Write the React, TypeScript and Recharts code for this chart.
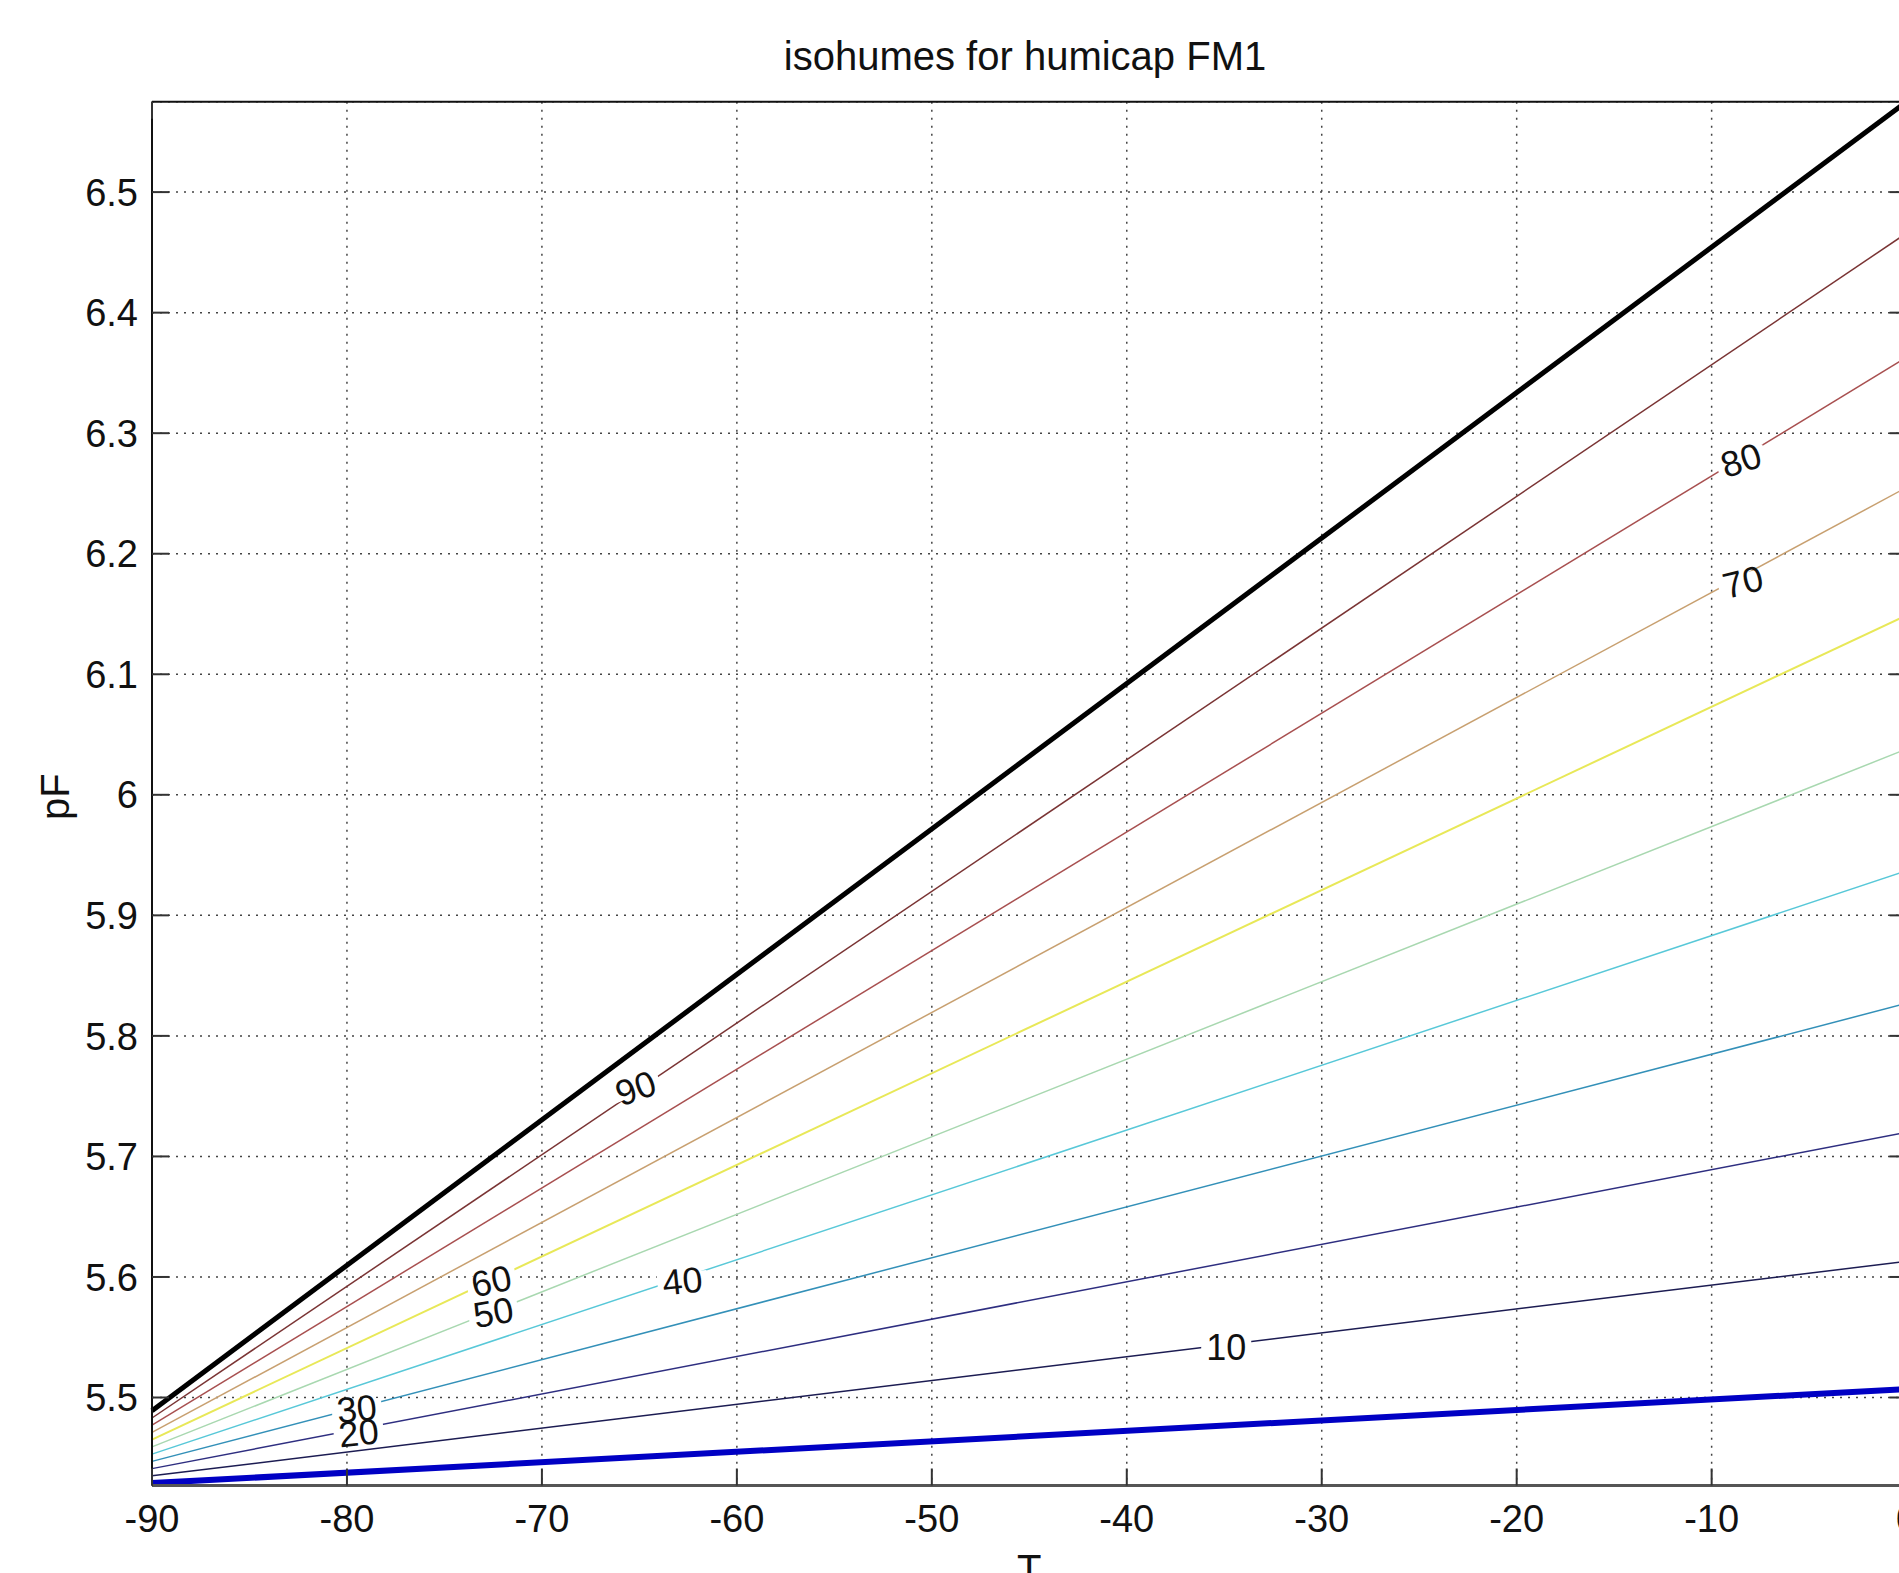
import React from 'react';
import { LineChart, Line, XAxis, YAxis, CartesianGrid, ReferenceDot } from 'recharts';

const FONT = '"Liberation Sans", Arial, Helvetica, sans-serif';
const TICK_LEN = 17;

// temperature at both ends of each isohume
const temps = [-90, 0];

// pF of each isohume (relative humidity %) read at T = -90 and T = 0
const rh0 = [5.429, 5.507];
const rh10 = [5.435, 5.613];
const rh20 = [5.441, 5.72];
const rh30 = [5.447, 5.827];
const rh40 = [5.453, 5.937];
const rh50 = [5.459, 6.038];
const rh60 = [5.465, 6.149];
const rh70 = [5.471, 6.255];
const rh80 = [5.477, 6.363];
const rh90 = [5.483, 6.466];
const rh100 = [5.489, 6.575];

const levels = [10, 20, 30, 40, 50, 60, 70, 80, 90, 0, 100];
const series = [rh10, rh20, rh30, rh40, rh50, rh60, rh70, rh80, rh90, rh0, rh100];
const lineColors = ['#1c1c52', '#2e2e80', '#3390b8', '#58c8d8', '#a8d8b0', '#e8e858', '#c8a070', '#a85050', '#7a3434', '#0000c4', '#000000'];
const lineWidths = [1.5, 1.5, 1.5, 1.5, 1.5, 2, 1.5, 1.5, 1.5, 6, 5];

const xTicks = [-90, -80, -70, -60, -50, -40, -30, -20, -10, 0];
const yTicks = [5.5, 5.6, 5.7, 5.8, 5.9, 6, 6.1, 6.2, 6.3, 6.4, 6.5];
const yDomain = [5.427, 6.575];

// inline contour labels
const labelText = ['90', '80', '70', '60', '50', '40', '30', '20', '10'];
const labelT = [-65.2, -8.5, -8.4, -72.6, -72.5, -62.8, -79.5, -79.4, -34.9];
const labelPF = [5.757, 6.278, 6.177, 5.597, 5.571, 5.597, 5.491, 5.471, 5.542];
const labelAngle = [-20, -18, -14, -12, -10, -6, -6, -6, 0];

const data = temps.map((t, i) => {
  const row: Record<string, number> = { T: t };
  levels.forEach((lv, j) => {
    row['rh' + lv] = series[j][i];
  });
  return row;
});

const fmtY = (v: number) => String(Number(v.toFixed(1)));

// MATLAB-style ticks: short line pointing into the plot, label outside
const BOTTOM_GAP = 20;
function BottomTick(p: any) {
  return (
    <g>
      <line x1={p.x} x2={p.x} y1={p.y - BOTTOM_GAP} y2={p.y - BOTTOM_GAP - TICK_LEN} stroke="#333" strokeWidth={2} />
      <text x={p.x} y={p.y} dy="0.71em" textAnchor="middle" fontSize={38} fontFamily={FONT} fill="#111">
        {p.payload.value}
      </text>
    </g>
  );
}

function TopTick(p: any) {
  const m = 10;
  return <line x1={p.x} x2={p.x} y1={p.y + m} y2={p.y + m + TICK_LEN} stroke="#333" strokeWidth={2} />;
}

function LeftTick(p: any) {
  const m = 14;
  return (
    <g>
      <line x1={p.x + m} x2={p.x + m + TICK_LEN} y1={p.y} y2={p.y} stroke="#333" strokeWidth={2} />
      <text x={p.x} y={p.y} dy="0.36em" textAnchor="end" fontSize={38} fontFamily={FONT} fill="#111">
        {fmtY(p.payload.value)}
      </text>
    </g>
  );
}

function RightTick(p: any) {
  const m = 10;
  return <line x1={p.x - m} x2={p.x - m - TICK_LEN} y1={p.y} y2={p.y} stroke="#333" strokeWidth={2} />;
}

export default function App() {
  return (
    <div style={{ position: 'absolute', left: 0, top: 0, width: 1899, height: 1573, overflow: 'hidden', background: '#fff' }}>
      <div
        style={{
          position: 'absolute',
          left: 525,
          top: 36,
          width: 1000,
          textAlign: 'center',
          fontFamily: FONT,
          fontSize: 40,
          lineHeight: '40px',
          color: '#111',
        }}
      >
        isohumes for humicap FM1
      </div>
      <LineChart
        width={1960}
        height={1600}
        data={data}
        margin={{ top: 100.7, right: 52.4, bottom: 54.5, left: 151 }}
      >
        <CartesianGrid
          xAxisId="b"
          yAxisId="l"
          stroke="#444"
          strokeWidth={1.5}
          strokeDasharray="2 6"
        />
        {levels.map((lv, j) => (
          <Line
            key={lv}
            xAxisId="b"
            yAxisId="l"
            type="linear"
            dataKey={'rh' + lv}
            stroke={lineColors[j]}
            strokeWidth={lineWidths[j]}
            dot={false}
            activeDot={false}
            isAnimationActive={false}
          />
        ))}
        {labelText.map((txt, i) => (
          <ReferenceDot
            key={txt}
            xAxisId="b"
            yAxisId="l"
            x={labelT[i]}
            y={labelPF[i]}
            r={0}
            shape={(p: any) => (
              <g transform={`translate(${p.cx},${p.cy}) rotate(${labelAngle[i]})`}>
                <rect x={-25} y={-8} width={50} height={16} fill="#fff" />
                <text x={0} y={0} dy="0.36em" textAnchor="middle" fontSize={36} fontFamily={FONT} fill="#111">
                  {txt}
                </text>
              </g>
            )}
          />
        ))}
        <XAxis
          xAxisId="b"
          dataKey="T"
          type="number"
          domain={[-90, 0]}
          ticks={xTicks}
          interval={0}
          orientation="bottom"
          height={60}
          tickSize={0}
          tickMargin={BOTTOM_GAP}
          tickLine={false}
          tick={<BottomTick />}
          axisLine={{ stroke: '#555', strokeWidth: 3 }}
          label={{
            content: (p: any) => (
              <text
                x={p.viewBox.x + p.viewBox.width / 2}
                y={p.viewBox.y + 97}
                textAnchor="middle"
                fontSize={40}
                fontFamily={FONT}
                fill="#111"
              >
                T
              </text>
            ),
          }}
        />
        <XAxis
          xAxisId="t"
          type="number"
          domain={[-90, 0]}
          ticks={xTicks}
          interval={0}
          orientation="top"
          height={1}
          tickSize={0}
          tickMargin={10}
          tickLine={false}
          tick={<TopTick />}
          axisLine={{ stroke: '#111', strokeWidth: 2 }}
        />
        <YAxis
          yAxisId="l"
          type="number"
          domain={yDomain}
          allowDataOverflow
          ticks={yTicks}
          interval={0}
          width={1}
          tickSize={0}
          tickMargin={14}
          tickLine={false}
          tick={<LeftTick />}
          axisLine={{ stroke: '#111', strokeWidth: 2 }}
          label={{
            content: (p: any) => {
              const x = p.viewBox.x - 82;
              const y = p.viewBox.y + p.viewBox.height / 2 + 3;
              return (
                <text
                  x={x}
                  y={y}
                  transform={`rotate(-90, ${x}, ${y})`}
                  textAnchor="middle"
                  fontSize={40}
                  fontFamily={FONT}
                  fill="#111"
                >
                  pF
                </text>
              );
            },
          }}
        />
        <YAxis
          yAxisId="r"
          orientation="right"
          type="number"
          domain={yDomain}
          allowDataOverflow
          ticks={yTicks}
          interval={0}
          width={1}
          tickSize={0}
          tickMargin={10}
          tickLine={false}
          tick={<RightTick />}
          axisLine={{ stroke: '#111', strokeWidth: 2 }}
        />
      </LineChart>
    </div>
  );
}
